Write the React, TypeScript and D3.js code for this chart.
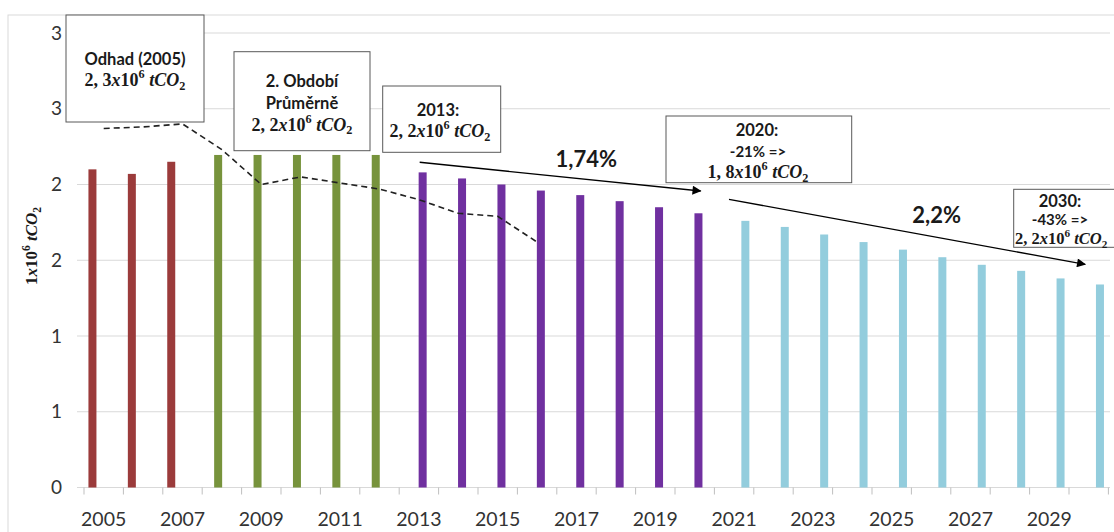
import React from 'react';
import * as d3 from 'd3';

// categories
const years = [
  2005, 2006, 2007, 2008, 2009, 2010, 2011, 2012, 2013, 2014, 2015, 2016, 2017,
  2018, 2019, 2020, 2021, 2022, 2023, 2024, 2025, 2026, 2027, 2028, 2029, 2030,
];
const yTicks = [0, 0.5, 1, 1.5, 2, 2.5, 3];
const xLabelYears = [2005, 2007, 2009, 2011, 2013, 2015, 2017, 2019, 2021, 2023, 2025, 2027, 2029];

// bar series (1x10^6 tCO2)
const period1Years = [2005, 2006, 2007];
const period1Values = [2.1, 2.07, 2.15];
const period2Years = [2008, 2009, 2010, 2011, 2012];
const period2Values = [2.195, 2.195, 2.195, 2.195, 2.195];
const period3Years = [2013, 2014, 2015, 2016, 2017, 2018, 2019, 2020];
const period3Values = [2.08, 2.04, 2.0, 1.96, 1.93, 1.89, 1.85, 1.81];
const period4Years = [2021, 2022, 2023, 2024, 2025, 2026, 2027, 2028, 2029, 2030];
const period4Values = [1.76, 1.72, 1.67, 1.62, 1.57, 1.52, 1.47, 1.43, 1.38, 1.34];

// dashed estimate line
const estimateYears = [2005, 2006, 2007, 2008, 2009, 2010, 2011, 2012, 2013, 2014, 2015, 2016];
const estimateValues = [2.37, 2.38, 2.4, 2.23, 2.0, 2.05, 2.01, 1.97, 1.9, 1.81, 1.79, 1.62];

const seriesColors = ['#9b3b3b', '#77933c', '#7030a0', '#93cddd'];

const W = 1114;
const H = 532;

const x0 = d3.scaleBand<number>().domain(years).range([84, 1108.4]).paddingInner(0).paddingOuter(0);
const x1 = d3.scaleBand<number>().domain([0, 1, 2, 3]).range([0, x0.bandwidth()]).paddingInner(0).paddingOuter(0.625);
const y = d3.scaleLinear().domain([0, 3]).range([487.5, 33]);
const bw = x0.bandwidth();
const cx = (yr: number) => (x0(years[0]) as number) + (yr - years[0] + 0.5) * bw;

const groups = [
  { years: period1Years, values: period1Values },
  { years: period2Years, values: period2Values },
  { years: period3Years, values: period3Values },
  { years: period4Years, values: period4Values },
];

const sans = 'Lato, "Open Sans", sans-serif';
const serif = '"Liberation Serif", "DejaVu Serif", serif';

function MathText({ x, yy, lead, size = 18, anchor = 'middle' }: any) {
  return (
    <text x={x} y={yy} textAnchor={anchor} fontFamily={serif} fontWeight="bold" fontSize={size} fill="#1a1a1a">
      <tspan>{lead}</tspan>
      <tspan fontStyle="italic">x</tspan>
      <tspan>10</tspan>
      <tspan dy={-0.42 * size} fontSize={0.68 * size}>6</tspan>
      <tspan dy={0.42 * size} fontStyle="italic">{' tCO'}</tspan>
      <tspan dy={0.22 * size} fontSize={0.68 * size}>2</tspan>
    </text>
  );
}

function Box({ x, yy, w, h }: any) {
  return <rect x={x} y={yy} width={w} height={h} fill="#fff" stroke="#595959" strokeWidth={1} />;
}

export default function App() {
  const line = d3
    .line<number>()
    .x((_, i) => cx(estimateYears[i]))
    .y((d) => y(d));

  const arrows = [
    { from: [2013.02, 2.147], to: [2020.15, 1.957] },
    { from: [2020.87, 1.902], to: [2029.91, 1.473] },
  ];

  return (
    <svg width={W} height={H} style={{ position: 'absolute', left: 0, top: 0, background: '#fff' }}>
      <defs>
        <marker id="ah" viewBox="0 0 10 10" refX="9" refY="5" markerWidth="10" markerHeight="9" markerUnits="userSpaceOnUse" orient="auto">
          <path d="M0,0 L10,5 L0,10 z" fill="#000" />
        </marker>
      </defs>
      <rect x={8} y={15} width={W} height={H} fill="none" stroke="#d9d9d9" />

      {/* gridlines */}
      {yTicks.map((t) => (
        <line key={t} x1={77} x2={1110} y1={y(t)} y2={y(t)} stroke="#d9d9d9" strokeWidth={1.2} />
      ))}
      {/* x ticks */}
      {[...years, 2031].map((yr, i) => (
        <line key={yr} x1={84 + i * bw} x2={84 + i * bw} y1={y(0)} y2={y(0) + 7} stroke="#bfbfbf" />
      ))}

      {/* y labels */}
      {yTicks.map((t) => (
        <text key={t} x={62} y={y(t)} dy="0.35em" textAnchor="end" fontFamily={sans} fontSize={19} fill="#333">
          {Math.round(t)}
        </text>
      ))}
      {/* x labels */}
      {xLabelYears.map((yr) => (
        <text key={yr} x={(x0(yr) as number) + bw / 2} y={526} textAnchor="middle" fontFamily={sans} fontSize={19.5} fill="#333">
          {yr}
        </text>
      ))}

      {/* bars */}
      {groups.map((g, si) =>
        g.years.map((yr, i) => {
          const c = (x0(yr) as number) + (x1(si) as number) + x1.bandwidth() / 2;
          return (
            <rect key={yr} x={c - 4} width={8} y={y(g.values[i])} height={y(0) - y(g.values[i])} fill={seriesColors[si]} />
          );
        })
      )}

      {/* estimate dashed line */}
      <path d={line(estimateValues) as string} fill="none" stroke="#222" strokeWidth={1.6} strokeDasharray="6,4" />

      {/* trend arrows */}
      {arrows.map((a, i) => (
        <line key={i} x1={cx(a.from[0])} y1={y(a.from[1])} x2={cx(a.to[0])} y2={y(a.to[1])} stroke="#000" strokeWidth={1.3} markerEnd="url(#ah)" />
      ))}
      <text x={cx(2017.25)} y={y(2.115)} textAnchor="middle" fontFamily={sans} fontWeight="bold" fontSize={22} fill="#1a1a1a">1,74%</text>
      <text x={cx(2026.14)} y={y(1.748)} textAnchor="middle" fontFamily={sans} fontWeight="bold" fontSize={22} fill="#1a1a1a">2,2%</text>

      {/* annotation boxes */}
      <Box x={66} yy={15} w={138} h={107} />
      <text x={135} y={65} textAnchor="middle" fontFamily={sans} fontWeight="bold" fontSize={16.5} fill="#1a1a1a">Odhad (2005)</text>
      <MathText x={135} yy={86} lead={'2, 3'} />

      <Box x={234} yy={51.7} w={136} h={99} />
      <text x={302} y={87} textAnchor="middle" fontFamily={sans} fontWeight="bold" fontSize={16.5} fill="#1a1a1a">2. Období</text>
      <text x={302} y={109} textAnchor="middle" fontFamily={sans} fontWeight="bold" fontSize={16.5} fill="#1a1a1a">Průměrně</text>
      <MathText x={302} yy={130.5} lead={'2, 2'} />

      <Box x={382.7} yy={86} w={118} h={66.3} />
      <text x={438} y={116} textAnchor="middle" fontFamily={sans} fontWeight="bold" fontSize={16.5} fill="#1a1a1a">2013:</text>
      <MathText x={440} yy={137} lead={'2, 2'} />

      <Box x={666} yy={116} w={185.7} h={66.7} />
      <text x={757} y={136} textAnchor="middle" fontFamily={sans} fontWeight="bold" fontSize={16.5} fill="#1a1a1a">2020:</text>
      <text x={758} y={156.5} textAnchor="middle" fontFamily={sans} fontWeight="bold" fontSize={15} fill="#1a1a1a">-21% =&gt;</text>
      <MathText x={758} yy={178} lead={'1, 8'} />

      <Box x={1013.7} yy={189.3} w={120} h={58} />
      <text x={1060} y={206.5} textAnchor="middle" fontFamily={sans} fontWeight="bold" fontSize={16.5} fill="#1a1a1a">2030:</text>
      <text x={1060} y={225} textAnchor="middle" fontFamily={sans} fontWeight="bold" fontSize={15} fill="#1a1a1a">-43% =&gt;</text>
      <MathText x={1015} yy={244} lead={'2, 2'} anchor="start" size={16.5} />

      {/* y axis title */}
      <g transform="translate(37,246) rotate(-90)">
        <MathText x={0} yy={0} lead={'1'} size={17} />
      </g>
    </svg>
  );
}
